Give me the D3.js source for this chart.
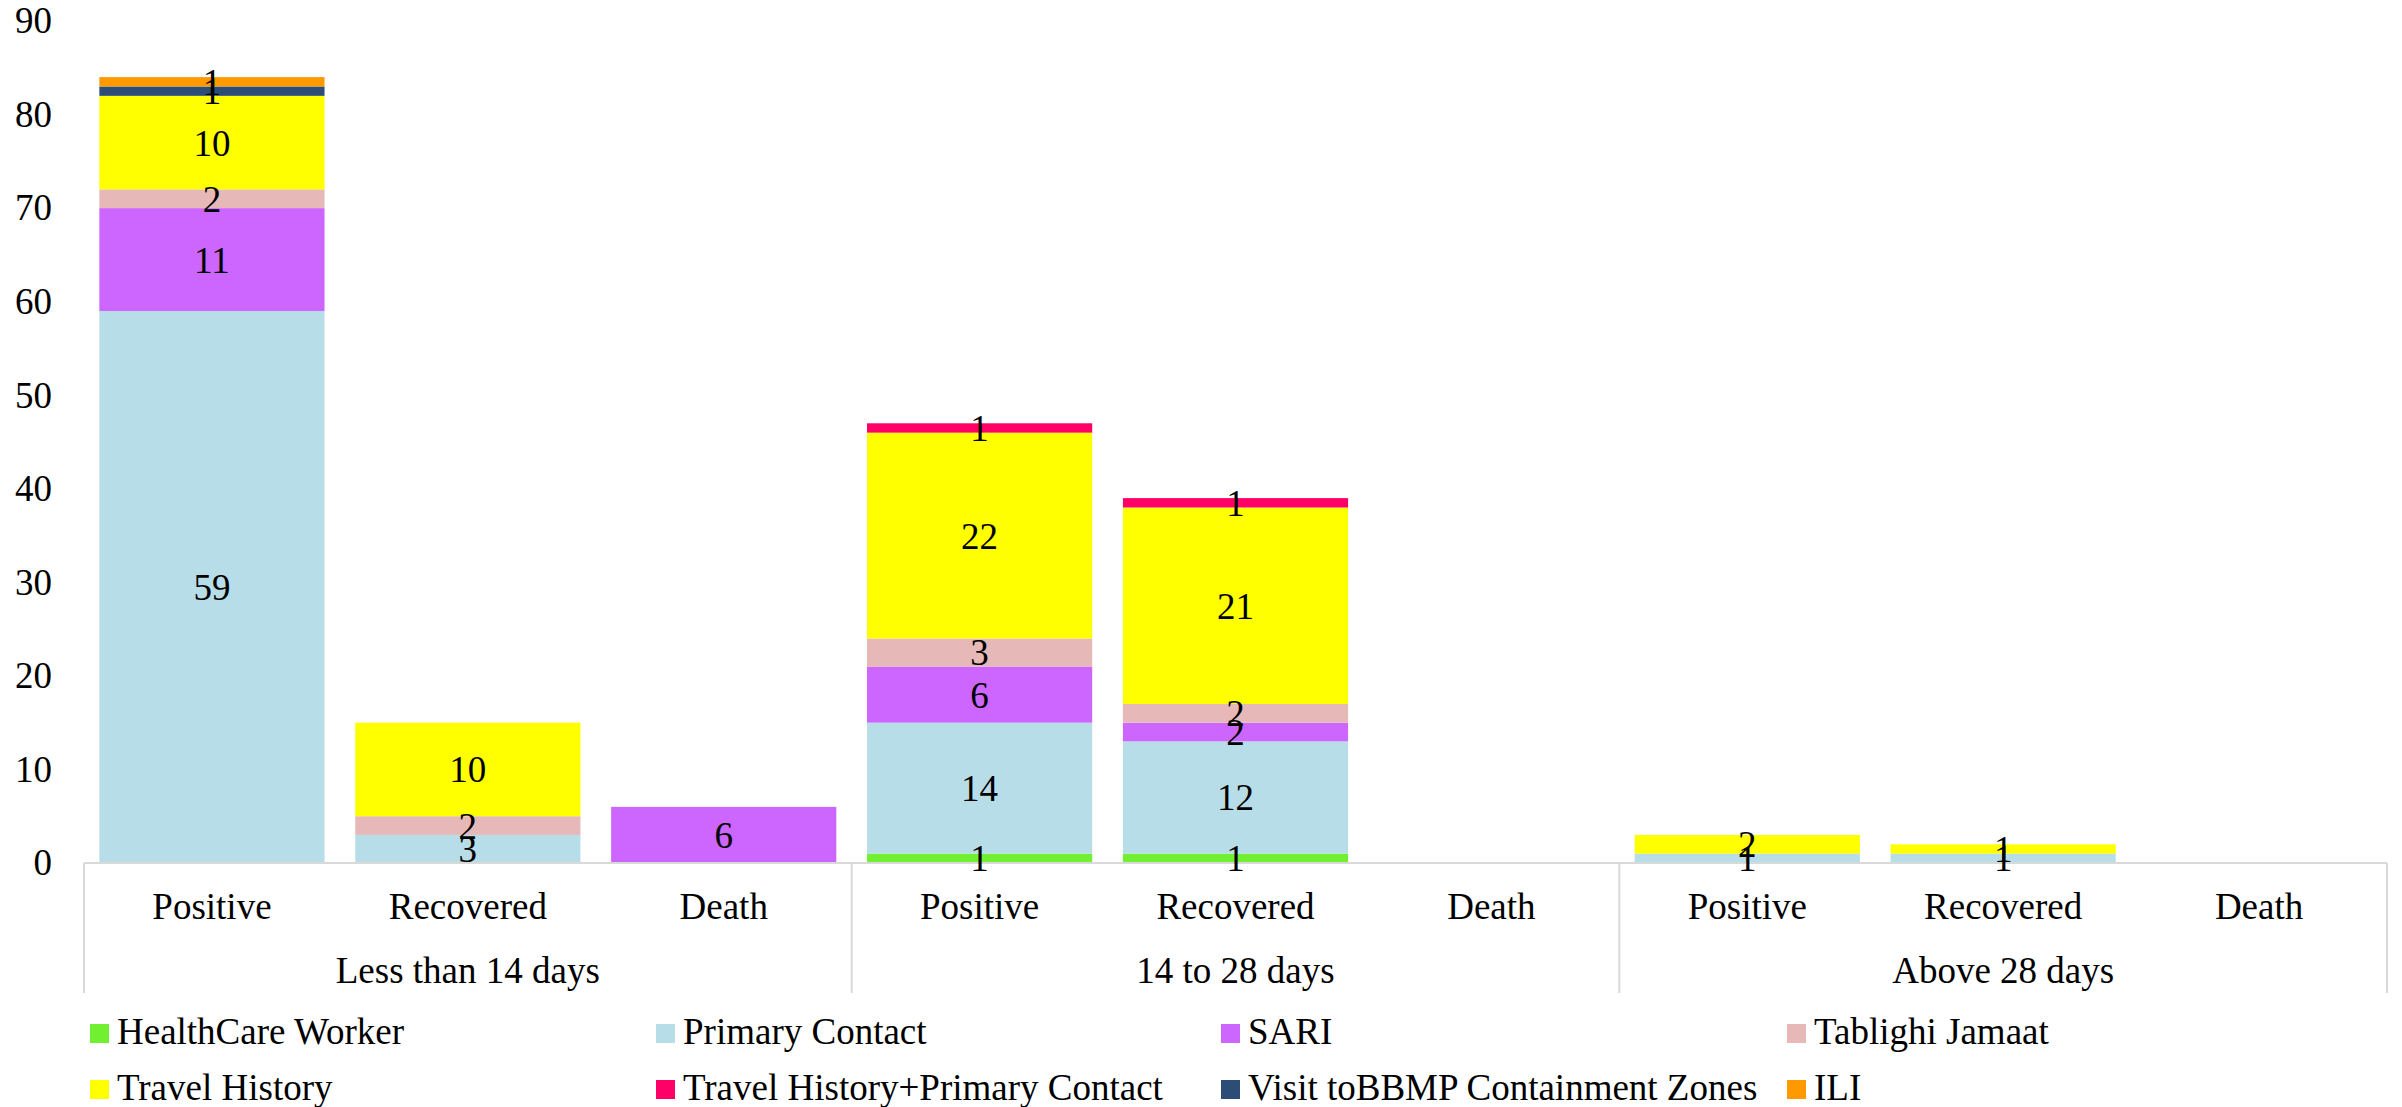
<!DOCTYPE html>
<html>
<head>
<meta charset="utf-8">
<script src="https://cdn.jsdelivr.net/npm/d3@7"></script>
<style>
  html, body { margin: 0; padding: 0; background: #ffffff; }
  svg, svg text { font-family: "Liberation Serif", "Times New Roman", Times, serif !important; fill: #000; }
</style>
</head>
<body>
<svg id="chart" width="2402" height="1107"></svg>
<script>
// ---- Data ----
const groups = ["Less than 14 days", "14 to 28 days", "Above 28 days"];
const statuses = ["Positive", "Recovered", "Death"];
const seriesNames = ["HealthCare Worker", "Primary Contact", "SARI", "Tablighi Jamaat",
  "Travel History", "Travel History+Primary Contact", "Visit toBBMP Containment Zones", "ILI"];
const seriesColors = ["#70F030", "#B7DEE8", "#CC66FF", "#E6B8B7", "#FFFF00", "#FF0066", "#2C4D75", "#FF9900"];
// values per category, order: [<14 Pos, <14 Rec, <14 Death, 14-28 Pos, 14-28 Rec, 14-28 Death, >28 Pos, >28 Rec, >28 Death]
const healthCareWorker = [0, 0, 0, 1, 1, 0, 0, 0, 0];
const primaryContact   = [59, 3, 0, 14, 12, 0, 1, 1, 0];
const sari             = [11, 0, 6, 6, 2, 0, 0, 0, 0];
const tablighiJamaat   = [2, 2, 0, 3, 2, 0, 0, 0, 0];
const travelHistory    = [10, 10, 0, 22, 21, 0, 2, 1, 0];
const travelPrimary    = [0, 0, 0, 1, 1, 0, 0, 0, 0];
const visitBBMP        = [1, 0, 0, 0, 0, 0, 0, 0, 0];
const ili              = [1, 0, 0, 0, 0, 0, 0, 0, 0];
const yTicks = [0, 10, 20, 30, 40, 50, 60, 70, 80, 90];

const seriesValues = [healthCareWorker, primaryContact, sari, tablighiJamaat, travelHistory, travelPrimary, visitBBMP, ili];

// ---- Build table ----
const cats = [];
groups.forEach((g, gi) => statuses.forEach((s, si) => cats.push({ id: gi * 3 + si, group: g, status: s })));
const table = cats.map((c, i) => {
  const row = { id: c.id };
  seriesNames.forEach((n, k) => row[n] = seriesValues[k][i]);
  return row;
});
const stacked = d3.stack().keys(seriesNames)(table);

// ---- Layout ----
const FONT = '"Liberation Serif", "Times New Roman", Times, serif';
const left = 84, right = 2387, y0 = 863, yTop = 21;
const svg = d3.select("#chart");
const x = d3.scaleBand().domain(cats.map(c => c.id)).range([left, right]).paddingInner(0.12).paddingOuter(0.06);
const y = d3.scaleLinear().domain([0, 90]).range([y0, yTop]);
const color = d3.scaleOrdinal().domain(seriesNames).range(seriesColors);
const FS = 37;

// Y axis labels (no line)
const yAxis = d3.axisLeft(y).tickValues(yTicks).tickSize(0).tickPadding(0);
const yg = svg.append("g").attr("transform", `translate(${52},0)`).call(yAxis);
yg.attr("font-family", FONT);
yg.select(".domain").remove();
yg.selectAll("text").style("font-size", FS + "px").style("font-family", FONT).attr("fill", "#000").attr("dy", "0.32em");

// Bars
const layer = svg.append("g").selectAll("g").data(stacked).join("g").attr("fill", d => color(d.key));
layer.selectAll("rect").data(d => d.filter(p => p[1] - p[0] > 0)).join("rect")
  .attr("x", d => x(d.data.id))
  .attr("width", x.bandwidth())
  .attr("y", d => y(d[1]))
  .attr("height", d => y(d[0]) - y(d[1]));

// X axis line and group separators
const axisColor = "#D9D9D9";
svg.append("line").attr("x1", left).attr("x2", right).attr("y1", y0).attr("y2", y0)
  .attr("stroke", axisColor).attr("stroke-width", 2);
[left, (x(2) + x.bandwidth() + x(3)) / 2, (x(5) + x.bandwidth() + x(6)) / 2, right].forEach(sx => {
  svg.append("line").attr("x1", sx).attr("x2", sx).attr("y1", y0).attr("y2", 993)
    .attr("stroke", axisColor).attr("stroke-width", 2);
});

// Category labels
const xAxis = d3.axisBottom(x).tickSize(0).tickPadding(0).tickFormat(id => cats[id].status);
const xg = svg.append("g").attr("transform", `translate(0,${919})`).call(xAxis);
xg.attr("font-family", FONT);
xg.select(".domain").remove();
xg.selectAll("text").attr("y", 0).attr("dy", 0).style("font-size", FS + "px").style("font-family", FONT).attr("fill", "#000");

// Group labels
groups.forEach((g, gi) => {
  const cx = (x(gi * 3) + x(gi * 3 + 2) + x.bandwidth()) / 2;
  svg.append("text").attr("x", cx).attr("y", 983).attr("text-anchor", "middle")
    .style("font-size", FS + "px").style("font-family", FONT).text(g);
});

// Data labels
const labels = svg.append("g");
stacked.forEach(s => {
  s.filter(p => p[1] - p[0] > 0).forEach(p => {
    labels.append("text")
      .attr("x", x(p.data.id) + x.bandwidth() / 2)
      .attr("y", (y(p[0]) + y(p[1])) / 2)
      .attr("dy", "0.35em")
      .attr("text-anchor", "middle")
      .style("font-size", FS + "px").style("font-family", FONT)
      .text(p[1] - p[0]);
  });
});

// Legend
const legCols = [90, 656, 1221, 1787];
const legRows = [1044, 1100];
seriesNames.forEach((n, i) => {
  const cx = legCols[i % 4], by = legRows[Math.floor(i / 4)];
  const g = svg.append("g");
  g.append("rect").attr("x", cx).attr("y", by - 20).attr("width", 19).attr("height", 19).attr("fill", color(n));
  g.append("text").attr("x", cx + 27).attr("y", by).style("font-size", FS + "px").style("font-family", FONT).text(n);
});
</script>
</body>
</html>
